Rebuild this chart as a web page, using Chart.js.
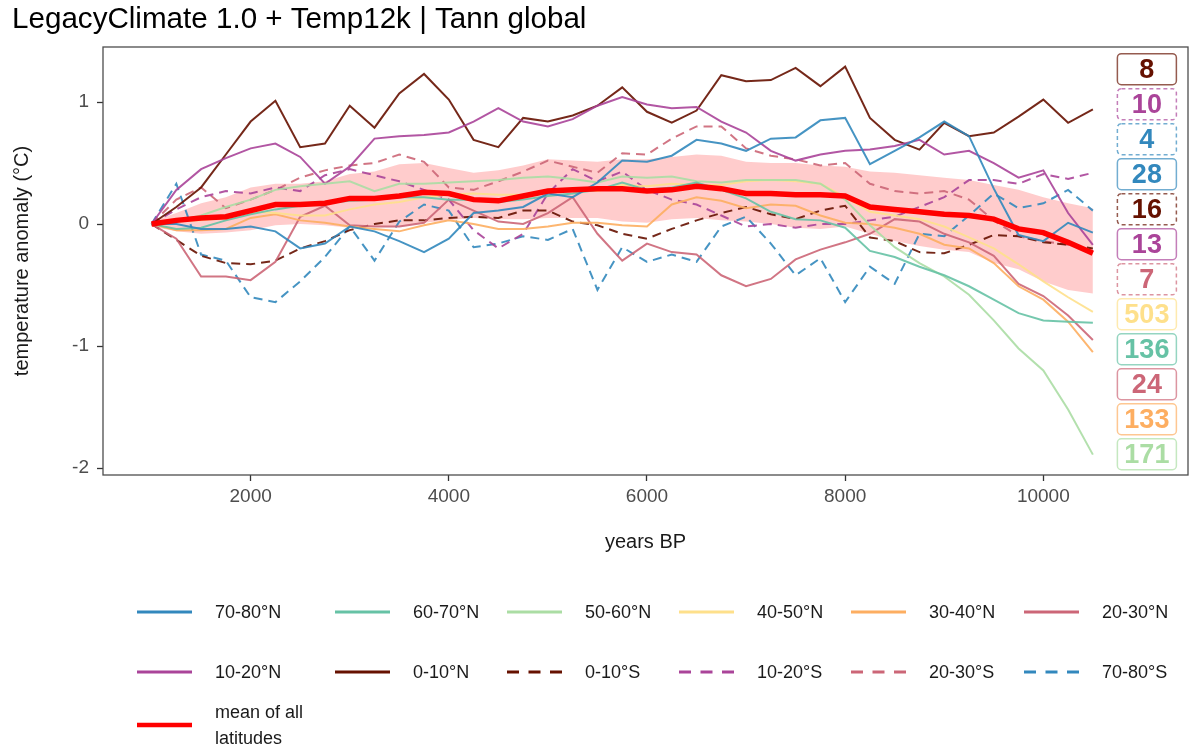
<!DOCTYPE html>
<html>
<head>
<meta charset="utf-8">
<title>LegacyClimate 1.0 + Temp12k | Tann global</title>
<script src="https://cdn.jsdelivr.net/npm/chart.js@4.4.1/dist/chart.umd.min.js"></script>
<style>
    html, body { margin: 0; padding: 0; background: #fff; }
    #wrap { position: relative; width: 1192px; height: 751px; overflow: hidden; }
    #chart { position: absolute; left: 0; top: 0; }
    #legend {
        position: absolute; left: 137px; top: 582px;
        display: grid;
        grid-template-columns: 198px 172px 172px 172px 173px 90px;
        grid-template-rows: 60px 60px 46px;
        font: 18px 'Liberation Sans', Arial, sans-serif;
        color: #1a1a1a;
    }
    #legend .item { display: flex; align-items: center; white-space: nowrap; }
    #legend .item svg { flex: none; }
    #legend .item span { margin-left: 23px; line-height: 26px; }
</style>
</head>
<body>
<div id="wrap">
    <canvas id="chart" width="1192" height="751"></canvas>
    <div id="legend"></div>
</div>
<script>
/**
 * Tann anomaly by latitude band
 */
const years = [1000, 1250, 1500, 1750, 2000, 2250, 2500, 2750, 3000, 3250, 3500, 3750, 4000,
    4250, 4500, 4750, 5000, 5250, 5500, 5750, 6000, 6250, 6500, 6750, 7000, 7250, 7500,
    7750, 8000, 8250, 8500, 8750, 9000, 9250, 9500, 9750, 10000, 10250, 10500];

const lat70_80N = [0, 0.0, -0.04, -0.04, -0.02, -0.06, -0.20, -0.16, -0.02, -0.06, -0.14, -0.23, -0.12,
    0.09, 0.11, 0.14, 0.25, 0.22, 0.34, 0.52, 0.51, 0.56, 0.69, 0.66, 0.60, 0.70, 0.71,
    0.85, 0.87, 0.49, 0.60, 0.71, 0.84, 0.72, 0.29, -0.09, -0.14, 0.01, -0.07];
const lat60_70N = [0, -0.04, -0.03, 0.03, 0.08, 0.12, 0.15, 0.17, 0.19, 0.20, 0.22, 0.22, 0.20,
    0.20, 0.18, 0.20, 0.23, 0.25, 0.28, 0.34, 0.28, 0.30, 0.34, 0.28, 0.21, 0.10, 0.04,
    0.03, -0.03, -0.22, -0.27, -0.35, -0.42, -0.51, -0.62, -0.73, -0.79, -0.80, -0.81];
const lat50_60N = [0, 0.02, 0.07, 0.14, 0.20, 0.28, 0.31, 0.33, 0.35, 0.27, 0.33, 0.33, 0.34,
    0.35, 0.36, 0.38, 0.39, 0.37, 0.34, 0.39, 0.38, 0.39, 0.35, 0.34, 0.36, 0.36, 0.36,
    0.33, 0.20, -0.01, -0.19, -0.32, -0.43, -0.58, -0.79, -1.02, -1.20, -1.52, -1.89];
const lat40_50N = [0, 0.02, 0.03, 0.05, 0.10, 0.09, 0.07, 0.07, 0.12, 0.16, 0.18, 0.22, 0.24,
    0.25, 0.24, 0.24, 0.26, 0.28, 0.27, 0.32, 0.31, 0.33, 0.32, 0.32, 0.35, 0.36, 0.35,
    0.33, 0.22, 0.10, 0.07, 0.04, -0.02, -0.11, -0.20, -0.33, -0.47, -0.60, -0.72];
const lat30_40N = [0, -0.05, -0.05, -0.04, 0.05, 0.08, 0.03, 0.01, -0.02, -0.04, -0.06, -0.01, 0.03,
    0.0, -0.04, -0.04, -0.02, 0.01, 0.01, -0.01, -0.02, 0.16, 0.22, 0.19, 0.13, 0.16, 0.15,
    0.07, 0.01, 0.0, -0.03, -0.08, -0.17, -0.20, -0.32, -0.51, -0.62, -0.80, -1.05];
const lat20_30N = [0, -0.12, -0.43, -0.43, -0.46, -0.31, 0.06, 0.15, -0.01, -0.02, -0.02, 0.01, 0.20,
    0.11, 0.02, 0.0, 0.09, 0.22, -0.08, -0.30, -0.16, -0.23, -0.25, -0.42, -0.51, -0.45, -0.29,
    -0.21, -0.15, -0.08, 0.04, 0.02, -0.08, -0.15, -0.26, -0.49, -0.59, -0.75, -0.95];
const lat10_20N = [0, 0.28, 0.45, 0.54, 0.62, 0.66, 0.55, 0.33, 0.47, 0.70, 0.72, 0.73, 0.75,
    0.84, 0.95, 0.84, 0.80, 0.86, 0.97, 1.04, 0.98, 0.95, 0.96, 0.84, 0.75, 0.60, 0.52,
    0.57, 0.60, 0.61, 0.64, 0.69, 0.57, 0.60, 0.50, 0.38, 0.44, 0.09, -0.17];
const lat0_10N = [0, 0.14, 0.30, 0.57, 0.84, 1.01, 0.63, 0.66, 0.97, 0.79, 1.07, 1.23, 1.02,
    0.69, 0.63, 0.87, 0.84, 0.89, 0.97, 1.12, 0.92, 0.83, 0.93, 1.22, 1.17, 1.18, 1.28,
    1.13, 1.29, 0.87, 0.69, 0.61, 0.83, 0.72, 0.75, 0.88, 1.02, 0.83, 0.94];
const lat0_10S = [0, -0.13, -0.26, -0.32, -0.33, -0.30, -0.20, -0.14, -0.05, 0.0, 0.03, 0.03, 0.05,
    0.06, 0.05, 0.11, 0.11, 0.02, -0.01, -0.08, -0.12, -0.04, 0.03, 0.09, 0.14, 0.08, 0.04,
    0.11, 0.15, -0.11, -0.14, -0.23, -0.24, -0.17, -0.09, -0.10, -0.15, -0.17, -0.20];
const lat10_20S = [0, 0.12, 0.22, 0.27, 0.25, 0.30, 0.27, 0.40, 0.45, 0.40, 0.35, 0.28, 0.20,
    -0.05, -0.20, -0.08, 0.25, 0.45, 0.35, 0.43, 0.28, 0.20, 0.16, 0.07, -0.02, 0.0, -0.03,
    0.0, 0.0, 0.03, 0.06, 0.14, 0.22, 0.36, 0.36, 0.33, 0.41, 0.37, 0.42];
const lat20_30S = [0, 0.20, 0.30, 0.13, 0.20, 0.28, 0.38, 0.44, 0.48, 0.50, 0.57, 0.51, 0.30,
    0.28, 0.35, 0.43, 0.52, 0.47, 0.42, 0.58, 0.57, 0.70, 0.80, 0.80, 0.62, 0.56, 0.53,
    0.48, 0.50, 0.33, 0.27, 0.25, 0.27, 0.20, 0.03, -0.10, -0.14, -0.17, -0.22];
const lat70_80S = [0, 0.33, -0.25, -0.30, -0.60, -0.64, -0.47, -0.27, -0.02, -0.30, 0.02, 0.16, 0.11,
    -0.19, -0.16, -0.10, -0.13, -0.04, -0.54, -0.19, -0.31, -0.25, -0.31, -0.02, 0.06, -0.16, -0.42,
    -0.28, -0.64, -0.35, -0.49, -0.08, -0.10, 0.07, 0.25, 0.13, 0.17, 0.28, 0.11];

const meanAll = [0, 0.03, 0.05, 0.06, 0.11, 0.16, 0.16, 0.17, 0.21, 0.21, 0.23, 0.26, 0.25,
    0.20, 0.19, 0.23, 0.27, 0.28, 0.29, 0.29, 0.27, 0.28, 0.31, 0.29, 0.25, 0.25, 0.24,
    0.24, 0.23, 0.14, 0.12, 0.10, 0.08, 0.07, 0.04, -0.04, -0.07, -0.15, -0.24];
const bandUpper = [0.02, 0.09, 0.17, 0.22, 0.30, 0.33, 0.33, 0.35, 0.41, 0.43, 0.49, 0.50, 0.46,
    0.42, 0.44, 0.48, 0.53, 0.52, 0.51, 0.53, 0.53, 0.55, 0.57, 0.56, 0.51, 0.50, 0.50,
    0.48, 0.47, 0.43, 0.42, 0.40, 0.38, 0.36, 0.32, 0.28, 0.22, 0.17, 0.13];
const bandLower = [-0.02, -0.06, -0.08, -0.07, -0.05, -0.01, 0.0, -0.01, -0.03, -0.02, -0.02, 0.01, 0.03,
    0.05, 0.04, 0.04, 0.05, 0.05, 0.05, 0.02, 0.01, 0.04, 0.05, 0.03, 0.02, 0.0, -0.03,
    -0.04, -0.02, -0.08, -0.14, -0.18, -0.21, -0.23, -0.32, -0.37, -0.47, -0.54, -0.57];

// number of records per band, top to bottom as in the boxes on the right
const countOrder = ['0-10°N', '10-20°S', '70-80°S', '70-80°N', '0-10°S', '10-20°N',
    '20-30°S', '40-50°N', '60-70°N', '20-30°N', '30-40°N', '50-60°N'];
const siteCounts = [8, 10, 4, 28, 16, 13, 7, 503, 136, 24, 133, 171];

const xTicks = [2000, 4000, 6000, 8000, 10000];
const yTicks = [-2, -1, 0, 1];

const FONT = "'Liberation Sans', Arial, sans-serif";

const series = [
    { name: '70-80°N', values: lat70_80N, color: '#3288BD', dashed: false },
    { name: '60-70°N', values: lat60_70N, color: '#66C2A5', dashed: false },
    { name: '50-60°N', values: lat50_60N, color: '#ABDDA4', dashed: false },
    { name: '40-50°N', values: lat40_50N, color: '#FEE08B', dashed: false },
    { name: '30-40°N', values: lat30_40N, color: '#FDAE61', dashed: false },
    { name: '20-30°N', values: lat20_30N, color: '#CC6677', dashed: false },
    { name: '10-20°N', values: lat10_20N, color: '#AA4499', dashed: false },
    { name: '0-10°N', values: lat0_10N, color: '#661100', dashed: false },
    { name: '0-10°S', values: lat0_10S, color: '#661100', dashed: true },
    { name: '10-20°S', values: lat10_20S, color: '#AA4499', dashed: true },
    { name: '20-30°S', values: lat20_30S, color: '#CC6677', dashed: true },
    { name: '70-80°S', values: lat70_80S, color: '#3288BD', dashed: true }
];

const ClimateChart = {
    render() {
        this.buildLegend();

        new Chart(document.getElementById('chart'), {
            type: 'line',
            data: { datasets: this.buildDatasets() },
            options: {
                responsive: false,
                animation: false,
                layout: { padding: { left: 0, top: 47, right: 4, bottom: 196 } },
                elements: { point: { radius: 0 }, line: { tension: 0 } },
                plugins: { legend: { display: false }, tooltip: { enabled: false } },
                scales: {
                    x: {
                        type: 'linear',
                        min: 510,
                        max: 11460,
                        afterFit: s => { s.height = 80; },
                        afterBuildTicks: s => { s.ticks = xTicks.map(value => ({ value })); },
                        ticks: {
                            padding: 4, maxRotation: 0, color: '#4d4d4d',
                            font: { family: FONT, size: 19 },
                            callback: v => String(v)
                        },
                        grid: { drawOnChartArea: false, tickLength: 6, tickWidth: 1.3, color: '#333' },
                        border: { display: false },
                        title: {
                            display: true, text: 'years BP', color: '#1a1a1a',
                            font: { family: FONT, size: 20 }, padding: { top: 0, bottom: 1 }
                        }
                    },
                    y: {
                        min: -2.057,
                        max: 1.451,
                        afterFit: s => { s.width = 103; },
                        afterBuildTicks: s => { s.ticks = yTicks.map(value => ({ value })); },
                        ticks: {
                            padding: 8, color: '#4d4d4d',
                            font: { family: FONT, size: 19 },
                            callback: v => String(v)
                        },
                        grid: { drawOnChartArea: false, tickLength: 6, tickWidth: 1.3, color: '#333' },
                        border: { display: false },
                        title: {
                            display: true, text: 'temperature anomaly (°C)', color: '#1a1a1a',
                            font: { family: FONT, size: 20 }, padding: { top: 10, bottom: 0 }
                        }
                    }
                }
            },
            plugins: [this.panelPlugin()]
        });
    },

    toPoints(values) {
        return years.map((x, i) => ({ x, y: values[i] }));
    },

    buildDatasets() {
        const sets = [{
            label: 'mean of all latitudes',
            data: this.toPoints(meanAll),
            borderColor: '#FF0000',
            borderWidth: 5.5,
            order: 0
        }];

        series.forEach((s, i) => {
            sets.push({
                label: s.name,
                data: this.toPoints(s.values),
                borderColor: s.color + 'E6',
                borderWidth: 2,
                borderDash: s.dashed ? [9, 6] : [],
                order: 1 + i
            });
        });

        // min/max range of the mean, filled between the two edges
        sets.push({
            label: 'range upper',
            data: this.toPoints(bandUpper),
            borderColor: 'rgba(0,0,0,0)',
            borderWidth: 0,
            backgroundColor: 'rgba(255,0,0,0.2)',
            fill: '+1',
            order: 50
        });
        sets.push({
            label: 'range lower',
            data: this.toPoints(bandLower),
            borderColor: 'rgba(0,0,0,0)',
            borderWidth: 0,
            fill: false,
            order: 51
        });
        return sets;
    },

    panelPlugin() {
        return {
            id: 'panel',
            beforeDraw(chart) {
                const ctx = chart.ctx;
                ctx.save();
                ctx.fillStyle = '#000';
                ctx.font = `29.6px ${FONT}`;
                ctx.textBaseline = 'alphabetic';
                ctx.fillText('LegacyClimate 1.0 + Temp12k | Tann global', 12, 28);
                ctx.restore();
            },
            afterDatasetsDraw(chart) {
                const { ctx, chartArea: a, scales } = chart;
                ctx.save();
                ctx.strokeStyle = '#4d4d4d';
                ctx.lineWidth = 1.3;
                ctx.strokeRect(a.left, a.top, a.right - a.left, a.bottom - a.top);

                // record counts, stacked down the right side of the panel
                const cx = scales.x.getPixelForValue(11045);
                const top = scales.y.getPixelForValue(1.269);
                const step = scales.y.getPixelForValue(0) - scales.y.getPixelForValue(0.2869);
                countOrder.forEach((name, i) => {
                    const s = series.find(d => d.name === name);
                    const cy = top + i * step;
                    ctx.beginPath();
                    ctx.roundRect(cx - 29.5, cy - 15.5, 59, 31, 4);
                    ctx.fillStyle = '#fff';
                    ctx.fill();
                    ctx.setLineDash(s.dashed ? [4, 3] : []);
                    ctx.lineWidth = 1.5;
                    ctx.strokeStyle = s.color + 'B0';
                    ctx.stroke();
                    ctx.setLineDash([]);
                    ctx.fillStyle = s.color;
                    ctx.font = `bold 27px ${FONT}`;
                    ctx.textAlign = 'center';
                    ctx.textBaseline = 'middle';
                    ctx.fillText(String(siteCounts[i]), cx, cy + 1);
                });
                ctx.restore();
            }
        };
    },

    keySvg(color, dashed, width) {
        const dash = dashed ? 'stroke-dasharray="12 9.5"' : '';
        return `<svg width="55" height="12"><line x1="0" y1="6" x2="55" y2="6" stroke="${color}" stroke-width="${width}" ${dash}/></svg>`;
    },

    buildLegend() {
        const items = series.map(s => `
            <div class="item">${this.keySvg(s.color, s.dashed, 3)}<span>${s.name}</span></div>`);
        items.push(`
            <div class="item">${this.keySvg('#FF0000', false, 4.5)}<span>mean of all<br>latitudes</span></div>`);
        document.getElementById('legend').innerHTML = items.join('');
    }
};

ClimateChart.render();
</script>
</body>
</html>
